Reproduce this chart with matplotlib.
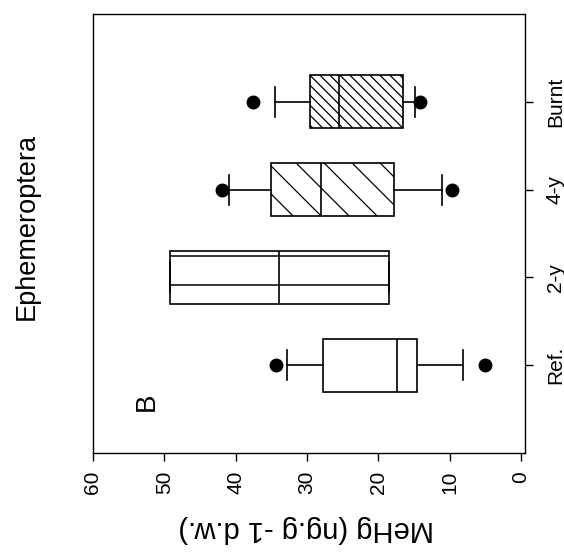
import matplotlib
matplotlib.use("Agg")
import matplotlib.pyplot as plt
from matplotlib.lines import Line2D
from matplotlib.transforms import IdentityTransform

plt.rcParams['font.family'] = ['Liberation Sans', 'DejaVu Sans']

# MeHg in Ephemeroptera per site group (ng/g dry weight)
sites = ['Ref.', '2-y', '4-y', 'Burnt']
q1 = [14.6, 18.5, 17.8, 16.5]
med = [17.4, 33.9, 28.1, 25.5]
q3 = [27.8, 49.2, 35.1, 29.6]
whis_lo = [8.1, 18.5, 11.1, 14.9]
whis_hi = [32.8, 49.2, 41.0, 34.5]
outliers = [[34.4, 5.0], [], [41.9, 9.7], [37.6, 14.2]]

# hatch spacing in pixels for each box (0 = no hatch)
hatch_step = [0, 0, 28, 10]
hatch_phase = [0, 0, 0.8, 0.3]

stats = []
for i in range(len(sites)):
    stats.append(dict(med=med[i], q1=q1[i], q3=q3[i],
                      whislo=whis_lo[i], whishi=whis_hi[i],
                      fliers=outliers[i], label=sites[i]))

fig = plt.figure(figsize=(5.64, 5.53), dpi=100)
ax = fig.add_axes([93/564, 100/553, 432/564, 439/553])
ax.set_xlim(60, -0.55)
ax.set_ylim(0, 5)
ax.set_autoscale_on(False)

pos = [1, 2, 3, 4]
bp = ax.bxp(stats, positions=pos, orientation='horizontal', widths=0.6,
            capwidths=0.34, patch_artist=True,
            boxprops=dict(facecolor='white', edgecolor='black', linewidth=1.2),
            medianprops=dict(color='black', linewidth=1.2),
            whiskerprops=dict(color='black', linewidth=1.2),
            capprops=dict(color='black', linewidth=1.2),
            flierprops=dict(marker='o', markerfacecolor='black',
                            markeredgecolor='black', markersize=9))

# inner lines of the 2-y box
ax.hlines([pos[1] + 0.24, pos[1] - 0.09], q1[1], q3[1], color='black', lw=1.1)


def add_hatch(ax, patch, step, phase, lw=0.9):
    # diagonal lines running down to the right, clipped to the box
    pts = patch.get_transform().transform(patch.get_path().vertices)
    x0, y0 = pts.min(axis=0)
    x1, y1 = pts.max(axis=0)
    h = y1 - y0
    c = x0 - h + phase * step
    while c < x1 + h:
        ln = Line2D([c, c + h], [y1, y0], transform=IdentityTransform(),
                    color='black', lw=lw)
        ln.set_clip_path(patch)
        ax.add_artist(ln)
        c += step


for i, patch in enumerate(bp['boxes']):
    if hatch_step[i]:
        add_hatch(ax, patch, hatch_step[i], hatch_phase[i])

# redraw medians on top of the hatching
for m in bp['medians']:
    m.set_zorder(5)

for side in ['left', 'top', 'right', 'bottom']:
    ax.spines[side].set_linewidth(1.0)

ax.set_xticks([60, 50, 40, 30, 20, 10, 0])
ax.set_xticklabels(['60', '50', '40', '30', '20', '10', '0'],
                   rotation=90, fontsize=15)
ax.tick_params(axis='x', direction='out', length=6, width=1.0, pad=7)

ax.set_yticks(pos)
ax.set_yticklabels(sites, rotation=90, va='center', fontsize=15)
ax.tick_params(axis='y', left=False, right=True, labelleft=False,
               labelright=True, direction='out', length=6, width=1.0, pad=9)

ax.text(0.125, 0.116, 'B', transform=ax.transAxes, rotation=90,
        fontsize=20, ha='center', va='center')

fig.text(306/564, 1 - 529/553, 'MeHg (ng.g -1 d.w.)', rotation=180,
         fontsize=21, ha='center', va='center')
fig.text(27/564, 1 - 226/553, 'Ephemeroptera', rotation=90,
         fontsize=19.5, ha='center', va='center')

fig.savefig('out.png', dpi=100, facecolor='white')
